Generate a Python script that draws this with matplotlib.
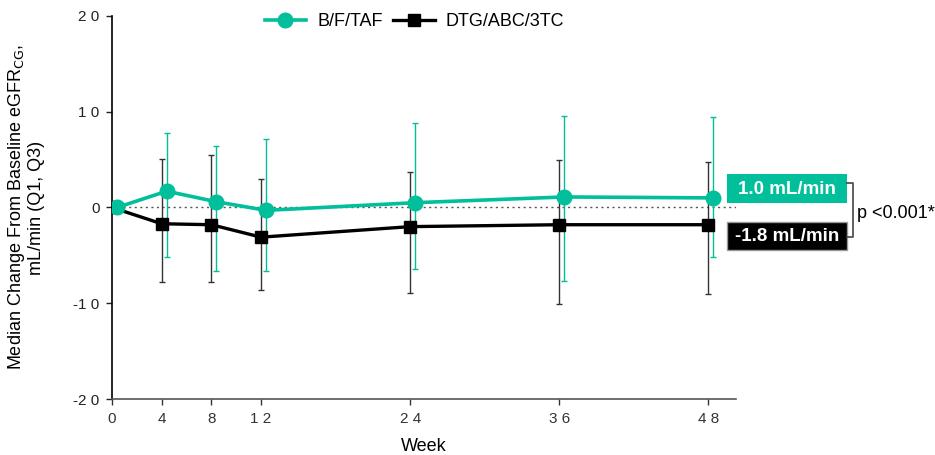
import matplotlib.pyplot as plt
from matplotlib.patches import Rectangle
import numpy as np

plt.rcParams['font.family'] = ['Liberation Sans', 'DejaVu Sans']

weeks = [0, 4, 8, 12, 24, 36, 48]

# B/F/TAF median change and Q1/Q3
bft_med = [0.0, 1.7, 0.6, -0.3, 0.5, 1.1, 1.0]
bft_q1 = [0.0, -5.2, -6.6, -6.6, -6.4, -7.7, -5.2]
bft_q3 = [0.0, 7.8, 6.4, 7.2, 8.8, 9.6, 9.4]

# DTG/ABC/3TC median change and Q1/Q3
dtg_med = [0.0, -1.7, -1.8, -3.1, -2.0, -1.8, -1.8]
dtg_q1 = [0.0, -7.8, -7.8, -8.6, -8.9, -10.1, -9.0]
dtg_q3 = [0.0, 5.1, 5.5, 3.0, 3.7, 5.0, 4.8]

teal = '#00BF9A'
W, H = 935, 455

fig = plt.figure(figsize=(9.35, 4.55), dpi=100)
ax = fig.add_axes([0.1198, 0.123, 0.667, 0.842])

ax.axhline(0, color='#555555', lw=1, ls=(0, (1.5, 2.5)), zorder=1)

wx = np.array(weeks, dtype=float)
# small horizontal offset for B/F/TAF so error bars don't overlap
bx = wx + 0.4

dtg_err = [np.array(dtg_med) - np.array(dtg_q1), np.array(dtg_q3) - np.array(dtg_med)]
bft_err = [np.array(bft_med) - np.array(bft_q1), np.array(bft_q3) - np.array(bft_med)]

ax.errorbar(wx[1:], dtg_med[1:], yerr=[e[1:] for e in dtg_err], fmt='none',
            ecolor='#333333', elinewidth=1, capsize=2.5, capthick=1, zorder=2)
ax.errorbar(bx[1:], bft_med[1:], yerr=[e[1:] for e in bft_err], fmt='none',
            ecolor=teal, elinewidth=1, capsize=2.5, capthick=1, zorder=2)

ax.plot(wx, dtg_med, color='black', lw=2.4, marker='s', ms=9, zorder=3,
        label='DTG/ABC/3TC')
ax.plot(bx, bft_med, color=teal, lw=2.6, marker='o', ms=10.5, zorder=4,
        label='B/F/TAF')

ax.set_xlim(0, 50.2)
ax.set_ylim(-20, 20)
ax.set_xticks(weeks)
ax.set_yticks([-20, -10, 0, 10, 20])
ax.set_yticklabels(['-2 0', '-1 0', '0', '1 0', '2 0'])
ax.set_xticklabels(['0', '4', '8', '1 2', '2 4', '3 6', '4 8'])
ax.tick_params(labelsize=11, length=4, width=1, colors='#222222', pad=5)
ax.tick_params(axis='x', colors='#333333')

for s in ['top', 'right']:
    ax.spines[s].set_visible(False)
ax.spines['left'].set_color('black')
ax.spines['bottom'].set_color('#555555')
ax.spines['left'].set_linewidth(1.2)
ax.spines['bottom'].set_linewidth(1.2)

ax.set_xlabel('Week', fontsize=13, labelpad=9)
ax.set_ylabel('Median Change From Baseline eGFR$_{\\mathrm{CG}}$,\nmL/min (Q1, Q3)',
              fontsize=13, labelpad=20, linespacing=1.1)

handles, labels = ax.get_legend_handles_labels()
ax.legend(handles[::-1], labels[::-1], loc='upper center', bbox_to_anchor=(0.485, 1.05),
          ncol=2, frameon=False, fontsize=13, handlelength=2.3, columnspacing=0.6,
          handletextpad=0.6)

# right-side annotation boxes
fig.patches.append(Rectangle((727 / W, 1 - 203 / H), 120 / W, 29 / H,
                             transform=fig.transFigure, fc=teal, ec='none'))
fig.patches.append(Rectangle((727 / W, 1 - 250 / H), 120 / W, 28 / H,
                             transform=fig.transFigure, fc='black', ec='#999999', lw=1))
fig.text(787 / W, 1 - 189 / H, '1.0 mL/min', fontsize=13.5, fontweight='bold',
         color='white', ha='center', va='center')
fig.text(787 / W, 1 - 236 / H, '-1.8 mL/min', fontsize=13.5, fontweight='bold',
         color='white', ha='center', va='center')
bx0, bx1 = 847 / W, 853 / W
by0, by1 = 1 - 183 / H, 1 - 237 / H
fig.lines.append(plt.Line2D([bx0, bx1, bx1, bx0], [by0, by0, by1, by1],
                            transform=fig.transFigure, color='#444444', lw=1.2))
fig.text(857 / W, 1 - 213 / H, 'p <0.001*', fontsize=13, ha='left', va='center')

fig.savefig('out.png', dpi=100)
